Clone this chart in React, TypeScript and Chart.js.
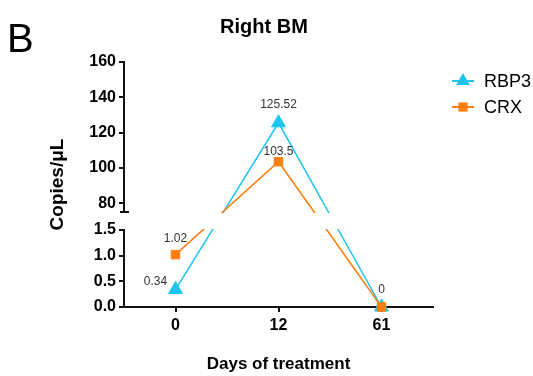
import React, { useEffect, useRef } from 'react';
import { Chart, registerables, LinearScale } from 'chart.js';

Chart.register(...registerables);

// ---------- data ----------
const days = ['0', '12', '61'];
const rbp3 = [0.34, 125.52, 0];
const crx = [1.02, 103.5, 0];
const lowerTicks = [0, 0.5, 1.0, 1.5];
const upperTicks = [80, 100, 120, 140, 160];
const lowerRange = [0, 1.5];
const upperRange = [75, 160];

// ---------- style ----------
const BLUE = '#1CC5F0';
const ORANGE = '#FF7F0E';
const SANS = "'Liberation Sans', Arial, Helvetica, sans-serif";
const F1 = 77 / 245; // fraction of axis height for lower segment
const F2 = 95 / 245; // fraction where upper segment starts

function brokenFraction(v: number): number {
  const [l0, l1] = lowerRange;
  const [u0, u1] = upperRange;
  if (v <= l1) return ((v - l0) / (l1 - l0)) * F1;
  if (v < u0) return F1 + ((v - l1) / (u0 - l1)) * (F2 - F1);
  return F2 + ((v - u0) / (u1 - u0)) * (1 - F2);
}
function inverseFraction(f: number): number {
  const [l0, l1] = lowerRange;
  const [u0, u1] = upperRange;
  if (f <= F1) return l0 + (f / F1) * (l1 - l0);
  if (f < F2) return l1 + ((f - F1) / (F2 - F1)) * (u0 - l1);
  return u0 + ((f - F2) / (1 - F2)) * (u1 - u0);
}

class BrokenScale extends LinearScale {
  static id = 'broken';
  static defaults = LinearScale.defaults;
  buildTicks() {
    return [...lowerTicks, ...upperTicks].map((v) => ({ value: v }));
  }
  getPixelForValue(v: number) {
    return this.getPixelForDecimal(brokenFraction(v));
  }
  getValueForPixel(p: number) {
    return inverseFraction(this.getDecimalForPixel(p));
  }
}
Chart.register(BrokenScale as any);

// label offsets per dataset/point (null = no label)
const labelPos: Record<string, ([number, number] | null)[]> = {
  RBP3: [[-20, -8], [0, -18], null],
  CRX: [[0, -16], [0, -10], [0, -17]],
};

function drawMarker(ctx: CanvasRenderingContext2D, style: string, x: number, y: number, r: number, color: string) {
  ctx.save();
  ctx.fillStyle = color;
  ctx.beginPath();
  if (style === 'triangle') {
    for (let i = 0; i < 3; i++) {
      const a = (i * 2 * Math.PI) / 3;
      const px = x + Math.sin(a) * r;
      const py = y - Math.cos(a) * r;
      if (i === 0) ctx.moveTo(px, py);
      else ctx.lineTo(px, py);
    }
  } else {
    const h = r * Math.SQRT1_2;
    ctx.rect(x - h, y - h, 2 * h, 2 * h);
  }
  ctx.closePath();
  ctx.fill();
  ctx.restore();
}

const decorPlugin = {
  id: 'decor',
  afterDatasetsDraw(chart: any) {
    const ctx: CanvasRenderingContext2D = chart.ctx;
    const ca = chart.chartArea;
    const ys = chart.scales.y;
    const yBreakTop = ys.getPixelForValue(upperRange[0]);
    const yBreakLow = ys.getPixelForValue(lowerRange[1]);
    ctx.save();
    // white out the break band
    ctx.fillStyle = '#ffffff';
    ctx.fillRect(ca.left + 1, yBreakTop + 1, ca.right - ca.left + 10, yBreakLow - yBreakTop - 2);
    // y axis segments
    ctx.strokeStyle = '#111';
    ctx.lineWidth = 2;
    ctx.beginPath();
    ctx.moveTo(ca.left, ys.getPixelForValue(upperRange[1]) - 1);
    ctx.lineTo(ca.left, yBreakTop);
    ctx.moveTo(ca.left - 4, yBreakTop);
    ctx.lineTo(ca.left + 5, yBreakTop);
    ctx.moveTo(ca.left, yBreakLow - 1);
    ctx.lineTo(ca.left, ca.bottom);
    ctx.stroke();
    // data labels
    ctx.fillStyle = '#333';
    ctx.font = `12px ${SANS}`;
    ctx.textAlign = 'center';
    ctx.textBaseline = 'middle';
    chart.data.datasets.forEach((ds: any, di: number) => {
      const meta = chart.getDatasetMeta(di);
      const pos = labelPos[ds.label];
      meta.data.forEach((pt: any, i: number) => {
        const o = pos && pos[i];
        if (!o) return;
        ctx.fillText(String(ds.data[i]), pt.x + o[0], pt.y + o[1]);
      });
    });
    ctx.restore();
  },
  afterDraw(chart: any) {
    const ctx: CanvasRenderingContext2D = chart.ctx;
    ctx.save();
    ctx.fillStyle = '#000';
    ctx.textBaseline = 'alphabetic';
    ctx.textAlign = 'left';
    ctx.font = `40px ${SANS}`;
    ctx.fillText('B', 7, 52);
    ctx.textAlign = 'center';
    ctx.font = `bold 20px ${SANS}`;
    ctx.fillText('Right BM', 264, 33);
    // legend
    const items = [
      { label: 'RBP3', color: BLUE, style: 'triangle', r: 8, y: 81 },
      { label: 'CRX', color: ORANGE, style: 'rect', r: 6.5, y: 107 },
    ];
    items.forEach((it) => {
      ctx.strokeStyle = it.color;
      ctx.lineWidth = 2;
      ctx.beginPath();
      ctx.moveTo(452, it.y);
      ctx.lineTo(474, it.y);
      ctx.stroke();
      drawMarker(ctx, it.style, 463, it.y, it.r, it.color);
      ctx.fillStyle = '#000';
      ctx.font = `18px ${SANS}`;
      ctx.textAlign = 'left';
      ctx.textBaseline = 'middle';
      ctx.fillText(it.label, 484, it.y + 1);
    });
    ctx.restore();
  },
};

export default function App() {
  const ref = useRef<HTMLCanvasElement | null>(null);
  useEffect(() => {
    if (!ref.current) return;
    const chart = new Chart(ref.current, {
      type: 'line',
      data: {
        labels: days,
        datasets: [
          {
            label: 'RBP3',
            data: rbp3,
            borderColor: BLUE,
            backgroundColor: BLUE,
            borderWidth: 1.5,
            pointStyle: 'triangle',
            pointRadius: 8,
            pointBorderWidth: 1,
            pointBorderColor: BLUE,
            pointBackgroundColor: BLUE,
            tension: 0,
            clip: false,
            order: 1,
          },
          {
            label: 'CRX',
            data: crx,
            borderColor: ORANGE,
            backgroundColor: ORANGE,
            borderWidth: 1.5,
            pointStyle: 'rect',
            pointRadius: 6,
            pointBorderWidth: 1,
            pointBorderColor: ORANGE,
            pointBackgroundColor: ORANGE,
            tension: 0,
            clip: false,
            order: 0,
          },
        ],
      },
      options: {
        responsive: false,
        animation: false,
        devicePixelRatio: 1,
        layout: { padding: { left: 0, right: 100, top: 62, bottom: 0 } },
        plugins: { legend: { display: false }, tooltip: { enabled: false }, title: { display: false } },
        scales: {
          x: {
            type: 'category',
            offset: true,
            afterFit: (s: any) => {
              s.height = 69;
            },
            grid: {
              drawOnChartArea: false,
              drawTicks: true,
              tickLength: 5,
              color: '#111',
              lineWidth: 2,
            },
            border: { display: true, color: '#111', width: 2 },
            ticks: {
              color: '#000',
              padding: 4,
              font: { family: SANS, size: 16, weight: 'bold' },
            },
            title: {
              display: true,
              text: 'Days of treatment',
              color: '#000',
              font: { family: SANS, size: 17, weight: 'bold' },
              padding: { top: 0, bottom: 1 },
            },
          },
          y: {
            type: 'broken' as any,
            min: 0,
            max: 160,
            afterFit: (s: any) => {
              s.width = 124;
            },
            grid: {
              drawOnChartArea: false,
              drawTicks: true,
              tickLength: 5,
              color: '#111',
              lineWidth: 2,
            },
            border: { display: false },
            ticks: {
              color: '#000',
              padding: 3,
              autoSkip: false,
              font: { family: SANS, size: 16, weight: 'bold' },
              callback: (v: any) => (Number(v) <= lowerRange[1] ? Number(v).toFixed(1) : String(v)),
            },
            title: {
              display: true,
              text: 'Copies/μL',
              color: '#000',
              font: { family: SANS, size: 19, weight: 'bold' },
              padding: { top: 46, bottom: 0 },
            },
          },
        },
      } as any,
      plugins: [decorPlugin],
    });
    return () => chart.destroy();
  }, []);
  return (
    <div style={{ position: 'absolute', left: 0, top: 0, width: 533, height: 376, background: '#fff' }}>
      <canvas ref={ref} width={533} height={376} style={{ display: 'block', width: 533, height: 376 }} />
    </div>
  );
}
